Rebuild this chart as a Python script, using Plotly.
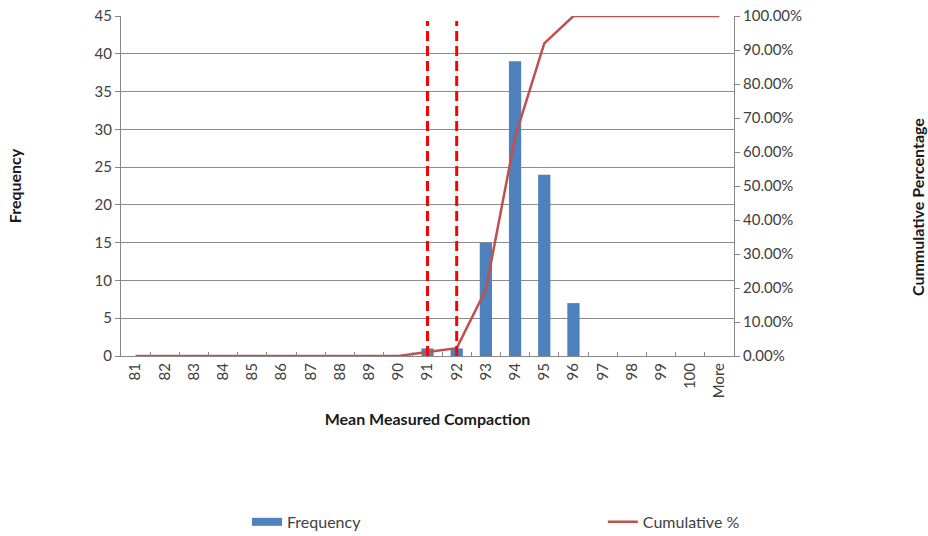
import plotly.graph_objects as go

categories = [str(v) for v in range(81, 101)] + ["More"]
frequency = [0, 0, 0, 0, 0, 0, 0, 0, 0, 0, 1, 1, 15, 39, 24, 7, 0, 0, 0, 0, 0]
cumulative = [0, 0, 0, 0, 0, 0, 0, 0, 0, 0, 0.0115, 0.0230, 0.1954, 0.6437, 0.9195, 1.0, 1.0, 1.0, 1.0, 1.0, 1.0]
limit_lines = ["91", "92"]

FONT = "Lato, 'Open Sans', sans-serif"
BLUE = "#4F81BD"
RED = "#C0504D"
TXT = "#404040"

fig = go.Figure()
fig.add_trace(go.Bar(x=categories, y=frequency, name="Frequency", showlegend=False,
                     marker=dict(color=BLUE, line=dict(width=0))))
# legend swatch for the bar series
fig.add_trace(go.Scatter(x=[None], y=[None], name="Frequency", mode="lines",
                         line=dict(color=BLUE, width=8), legend="legend"))
fig.add_trace(go.Scatter(x=categories, y=cumulative, name="Cumulative %", yaxis="y2",
                         mode="lines", line=dict(color=RED, width=2.5), legend="legend2"))

for c in limit_lines:
    idx = categories.index(c)
    fig.add_shape(type="line", xref="x", yref="paper", x0=idx, x1=idx, y0=0, y1=0.985,
                  line=dict(color="#FF0000", width=3, dash="10px,5px"))

fig.add_annotation(text="<b>Cummulative Percentage</b>", textangle=-90, showarrow=False,
                   xref="paper", yref="paper", x=1.2985, y=0.438,
                   xanchor="center", yanchor="middle",
                   font=dict(size=16, color="#1a1a1a", family=FONT))

fig.update_layout(
    width=928, height=536,
    margin=dict(l=121, r=194, t=16, b=180, autoexpand=False),
    paper_bgcolor="white", plot_bgcolor="white",
    font=dict(family=FONT, size=15, color=TXT),
    bargap=0.58,
    showlegend=True,
    legend=dict(x=0.2055, y=-0.488, xanchor="left", yanchor="middle",
                font=dict(size=16, color=TXT)),
    legend2=dict(x=0.786, y=-0.488, xanchor="left", yanchor="middle",
                 font=dict(size=16, color=TXT)),
    xaxis=dict(type="category", range=[-0.5, len(categories) - 0.5], automargin=False,
               tickmode="array", tickvals=categories, ticktext=categories,
               tickangle=-90, showgrid=False, showline=True,
               linecolor="#888888", linewidth=1, ticks="inside", tickson="boundaries",
               ticklen=4, tickcolor="#888888", tickfont=dict(size=15, color=TXT),
               title=dict(text="<b>Mean Measured Compaction</b>", font=dict(size=16, color="#1a1a1a"), standoff=16)),
    yaxis=dict(range=[0, 45], dtick=5, showgrid=True, gridcolor="#8c8c8c", gridwidth=1, automargin=False,
               showline=True, linecolor="#888888", ticks="outside", ticklen=5, tickcolor="#888888",
               zeroline=False, tickfont=dict(size=15, color=TXT),
               title=dict(text="<b>Frequency</b>", font=dict(size=16, color="#1a1a1a"), standoff=68)),
    yaxis2=dict(range=[0, 1], dtick=0.1, tickformat=".2%", overlaying="y", side="right", automargin=False,
                showgrid=False, showline=True, linecolor="#888888", ticks="outside", ticklen=5,
                tickcolor="#888888", zeroline=False, tickfont=dict(size=15, color=TXT)),
)

fig.write_html("out.html")
